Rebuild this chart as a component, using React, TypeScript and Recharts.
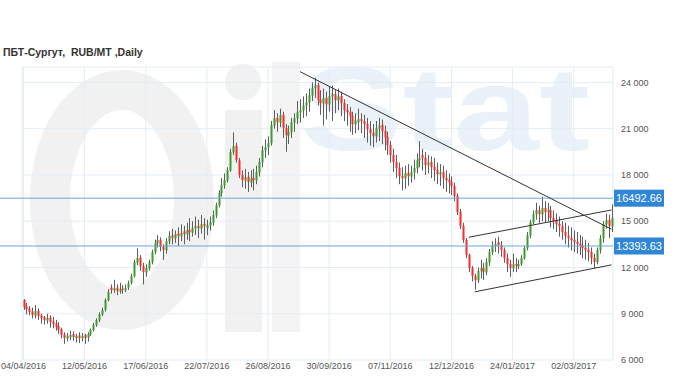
import React from "react";
import { ComposedChart, Bar, XAxis, YAxis, CartesianGrid, ReferenceLine } from "recharts";

const TITLE = "ПБТ-Сургут,  RUB/MT ,Daily";
const TICK_LABELS = ["04/04/2016", "12/05/2016", "17/06/2016", "22/07/2016", "26/08/2016", "30/09/2016", "07/11/2016", "12/12/2016", "24/01/2017", "02/03/2017"];
const TICK_STEP = 21;
const Y_TICKS = [6000, 9000, 12000, 15000, 18000, 21000, 24000];
const LEVELS = [16492.66, 13393.63];
// [fromIndex, fromPrice, toIndex, toPrice]
const TRENDS = [
    [95, 24700, 202, 14480],
    [153, 13960, 202, 15730],
    [155, 10420, 202, 12170],
];

const OPEN = [
    9890, 9480, 9350, 9150, 8880, 9200, 8900, 8780, 8550, 8760, 8500, 8380, 8200, 7990, 7660, 7400, 7480, 7680, 7420, 7600,
    7400, 7620, 7450, 7660, 7930, 8250, 8570, 8950, 9260, 9870, 10700, 10520, 10700, 10450, 10640, 10520, 10680, 11000, 11450, 12300,
    12640, 12100, 11680, 11940, 12330, 12980, 13560, 13800, 13350, 13110, 13690, 14080, 13890, 14200, 14020, 14350, 14150, 14440, 14270, 14530,
    14700, 14540, 14830, 14560, 14720, 14920, 15380, 16020, 16800, 17320, 17640, 18290, 19460, 19900, 18940, 18000, 17640, 17880, 17510, 17810,
    17640, 18160, 18810, 19590, 19780, 20040, 21210, 21700, 21400, 21900, 21050, 20560, 20750, 21400, 21660, 22050, 22180, 22500, 22700, 23150,
    23610, 23840, 22870, 22630, 23000, 22570, 23090, 23260, 22830, 23130, 22670, 22220, 22090, 21830, 21270, 21400, 21640, 21510, 21310, 20990,
    20730, 20500, 21010, 21250, 20860, 20470, 19950, 19300, 18850, 18460, 17940, 17770, 18140, 17900, 18160, 18420, 18940, 19300, 19110, 18620,
    18850, 18530, 18330, 18030, 18200, 17810, 17680, 17550, 17290, 16650, 15610, 14700, 13800, 12820, 11980, 11460, 11160, 11750, 11980, 11680,
    12330, 12980, 13370, 13650, 13470, 13150, 12630, 12240, 11940, 12240, 12070, 12200, 12590, 13240, 14080, 14920, 15440, 15740, 15440, 15870,
    15570, 15740, 15220, 15030, 14830, 14700, 14310, 14060, 13930, 13800, 13670, 13540, 13410, 13280, 13150, 13020, 12630, 12330, 13110, 13890,
    14790, 15090, 14660,
];
const HIGH = [
    9950, 9700, 9500, 9400, 9560, 9350, 9000, 8850, 9000, 8900, 8800, 8600, 8450, 8100, 7800, 7750, 7900, 7850, 7700, 7800,
    7750, 7700, 7800, 8050, 8400, 8700, 9100, 9400, 10000, 10600, 10900, 11200, 10900, 11000, 10850, 10900, 11150, 11600, 12500, 13250,
    12800, 12300, 12200, 12500, 13150, 13800, 14100, 13950, 13500, 13900, 14350, 14500, 14400, 14600, 14800, 14700, 14900, 15200, 15000, 15300,
    15100, 15400, 15200, 15100, 15300, 15700, 16200, 17000, 17800, 18100, 18500, 19700, 20760, 20100, 19100, 18300, 18400, 18200, 18300, 18400,
    18600, 19100, 19900, 20300, 20500, 21500, 22200, 22000, 22300, 22100, 21300, 21200, 21700, 22000, 22800, 22900, 23100, 23300, 23600, 24000,
    24300, 24000, 23500, 23600, 23400, 23700, 23800, 23500, 23600, 23400, 22900, 22600, 22400, 22100, 22000, 22300, 22000, 21900, 21700, 21500,
    21300, 21500, 21700, 21600, 21200, 20800, 20200, 19700, 19300, 18800, 18500, 18600, 18700, 18600, 19000, 19400, 20200, 19700, 19500, 19300,
    19200, 19100, 18800, 18700, 18600, 18300, 18100, 17900, 17500, 16800, 15800, 14900, 13900, 12900, 12100, 11600, 12000, 12500, 12300, 12600,
    13200, 13700, 13900, 14000, 13700, 13300, 12900, 12500, 12900, 12600, 12500, 12800, 13400, 14300, 15100, 15700, 16200, 16000, 16600, 16300,
    16200, 16000, 15700, 15500, 15300, 15000, 14900, 14700, 14600, 14400, 14300, 14100, 14000, 13800, 13600, 13300, 12900, 13300, 14100, 15000,
    15500, 15400, 16100,
];
const LOW = [
    9250, 8950, 8900, 8700, 8700, 8600, 8350, 8300, 8350, 8100, 8050, 7900, 7700, 7400, 7050, 7200, 7300, 7250, 7150, 7100,
    7200, 7050, 7200, 7550, 7850, 8150, 8450, 8850, 9150, 9800, 10300, 10350, 10200, 10300, 10300, 10400, 10550, 10900, 11350, 12150,
    11800, 10900, 11400, 11800, 12200, 12850, 13300, 13050, 12500, 12900, 13500, 13500, 13600, 13400, 13700, 13500, 13800, 13700, 14000, 14100,
    13900, 14200, 13800, 14100, 14400, 14700, 15200, 15900, 16600, 17100, 17500, 18200, 19300, 18800, 17800, 17200, 17100, 16900, 17200, 17000,
    17400, 17900, 18500, 19100, 19300, 19900, 21000, 20800, 21100, 20400, 19500, 20000, 20400, 20800, 21300, 21400, 21700, 21800, 22100, 22800,
    23000, 22500, 21900, 21200, 21600, 22100, 21500, 22000, 22200, 21800, 21500, 21200, 20800, 20600, 20700, 20900, 20700, 20400, 20100, 19900,
    19800, 20100, 20200, 20000, 19600, 19300, 18800, 18200, 17800, 17400, 17000, 17100, 17300, 17500, 17700, 18100, 18500, 18300, 18000, 18100,
    17800, 17600, 17400, 17300, 17100, 16900, 16800, 16700, 16300, 15400, 14500, 13600, 12600, 11700, 11100, 10550, 11000, 11300, 11200, 11500,
    12100, 12800, 13000, 12900, 12700, 12300, 11700, 11400, 11700, 11700, 11900, 12100, 12500, 13100, 13900, 14800, 15100, 14900, 15000, 14900,
    15000, 14600, 14500, 14300, 14000, 13800, 13500, 13300, 13100, 13000, 12900, 12800, 12600, 12500, 12400, 12200, 11950, 12200, 12900, 13600,
    14500, 13900, 14300,
];
const CLOSE = [
    9430, 9300, 9110, 8920, 9170, 8850, 8720, 8590, 8720, 8460, 8330, 8140, 7940, 7620, 7430, 7560, 7620, 7490, 7560, 7430,
    7560, 7430, 7680, 7940, 8270, 8590, 8980, 9240, 9890, 10410, 10540, 10670, 10470, 10600, 10540, 10670, 10990, 11440, 12350, 12610,
    12090, 11700, 11960, 12350, 13000, 13580, 13780, 13320, 13130, 13710, 14040, 13910, 14160, 14040, 14230, 14160, 14420, 14290, 14550, 14680,
    14550, 14810, 14680, 14740, 14940, 15400, 16040, 16820, 17340, 17660, 18310, 19480, 19870, 18960, 17990, 17660, 17860, 17530, 17790, 17660,
    18180, 18830, 19610, 19800, 20060, 21230, 21680, 21420, 21880, 21030, 20580, 20770, 21420, 21680, 22070, 22200, 22520, 22720, 23170, 23630,
    23820, 22850, 22650, 22980, 22590, 23110, 23240, 22850, 23110, 22650, 22200, 22070, 21810, 21290, 21550, 21620, 21490, 21290, 20970, 20710,
    20520, 21030, 21230, 20840, 20450, 19930, 19280, 18830, 18440, 17920, 17790, 18120, 17920, 18180, 18440, 18960, 19090, 19090, 18640, 18830,
    18510, 18310, 18050, 18180, 17790, 17660, 17530, 17270, 16630, 15590, 14680, 13780, 12800, 11960, 11440, 11180, 11770, 11960, 11700, 12350,
    13000, 13390, 13520, 13450, 13130, 12610, 12220, 11960, 12220, 12090, 12220, 12610, 13260, 14100, 14940, 15460, 15720, 15460, 15850, 15590,
    15720, 15200, 15010, 14810, 14680, 14290, 14040, 13910, 13780, 13650, 13520, 13390, 13260, 13130, 13000, 12610, 12350, 13130, 13910, 14810,
    15070, 14680, 15200,
];

const TICK_IDX = TICK_LABELS.map((_, k) => k * TICK_STEP);

const data = CLOSE.map((close, i) => ({
    i,
    open: OPEN[i],
    high: HIGH[i],
    low: LOW[i],
    close,
}));

const UP = "#3d9a2c";
const DOWN = "#fa2b2b";
const FONT = "'Liberation Sans', Arial, sans-serif";

const fmtThousands = (v: number) => String(v).replace(/\B(?=(\d{3})+(?!\d))/g, " ");

const Candle = (props: any) => {
    const { x, y, width, height, payload } = props;
    if (!payload || height == null) return null;
    const { open, close, high, low } = payload;
    const px = (v: number) => y + ((high - v) / (high - low)) * height;
    const cx = Math.round(x + width / 2);
    const top = px(Math.max(open, close));
    const bottom = px(Math.min(open, close));
    return (
        <g>
            <line x1={cx + 0.5} x2={cx + 0.5} y1={y} y2={y + height} stroke="#5e5e5e" strokeWidth={1} />
            <rect x={cx - 0.5} y={top} width={2} height={Math.max(1, bottom - top)} fill={close >= open ? UP : DOWN} />
        </g>
    );
};

// horizontal level: runs to the left edge of the picture, boxed value on the axis
const levelShape = (label: string) => (p: any) => {
    const right = Math.max(p.x1, p.x2);
    return (
        <g>
            <line x1={0} x2={right} y1={p.y1} y2={p.y2} stroke="#6ea4d8" strokeWidth={1} />
            <rect x={right + 1} y={p.y1 - 8.5} width={50} height={17} fill="#2f86d6" />
            <text x={right + 26} y={p.y1 + 4} textAnchor="middle" fill="#fff" fontSize={11} fontFamily={FONT}>
                {label}
            </text>
        </g>
    );
};

function Watermark() {
    return (
        <svg width={680} height={381} style={{ position: "absolute", left: 0, top: 0 }}>
            <ellipse cx={122} cy={200} rx={72} ry={110} fill="none" stroke="#f1f1f1" strokeWidth={40} />
            <circle cx={243} cy={82} r={18} fill="#f1f1f1" />
            <rect x={225} y={110} width={37} height={222} fill="#f1f1f1" />
            <rect x={272} y={62} width={28} height={270} fill="#f3f3f3" />
            <text x={300} y={150} fontSize={118} fontWeight="bold" fontFamily={FONT} fill="#eaf1f8" textLength={290} lengthAdjust="spacingAndGlyphs">
                Stat
            </text>
            <text x={3} y={56} fontSize={10.5} fontWeight="bold" fontFamily={FONT} fill="#333" style={{ whiteSpace: "pre" }}>
                {TITLE}
            </text>
        </svg>
    );
}

export default function App() {
    return (
        <div style={{ position: "absolute", left: 0, top: 0, width: 680, height: 381, background: "#fff" }}>
            <Watermark />
            <div style={{ position: "absolute", left: 0, top: 0 }}>
                <ComposedChart
                    width={680}
                    height={381}
                    data={data}
                    margin={{ top: 67, right: 7, bottom: 0, left: 22 }}
                    barCategoryGap={0}
                >
                    <CartesianGrid stroke="#e4edf5" strokeWidth={1} />
                    <XAxis
                        dataKey="i"
                        type="category"
                        ticks={TICK_IDX}
                        interval={0}
                        height={21}
                        tickSize={0}
                        tickMargin={3}
                        axisLine={false}
                        tickLine={false}
                        tickFormatter={(v: number) => TICK_LABELS[TICK_IDX.indexOf(v)] ?? ""}
                        tick={{ fontSize: 9, fill: "#555", fontFamily: FONT }}
                    />
                    <YAxis
                        orientation="right"
                        domain={[6000, 25000]}
                        ticks={Y_TICKS}
                        width={60}
                        axisLine={false}
                        tickLine={false}
                        tickSize={6}
                        tickMargin={2}
                        tickFormatter={fmtThousands}
                        tick={{ fontSize: 9, fill: "#555", fontFamily: FONT, textAnchor: "start" }}
                        allowDataOverflow
                    />
                    <Bar
                        dataKey={(d: any) => [d.low, d.high]}
                        shape={<Candle />}
                        isAnimationActive={false}
                    />
                    {LEVELS.map((lv) => (
                        <ReferenceLine key={lv} y={lv} shape={levelShape(lv.toFixed(2))} />
                    ))}
                    {TRENDS.map((t, k) => (
                        <ReferenceLine
                            key={k}
                            segment={[{ x: t[0], y: t[1] }, { x: t[2], y: t[3] }]}
                            stroke="#333"
                            strokeWidth={1}
                        />
                    ))}
                </ComposedChart>
            </div>
        </div>
    );
}
